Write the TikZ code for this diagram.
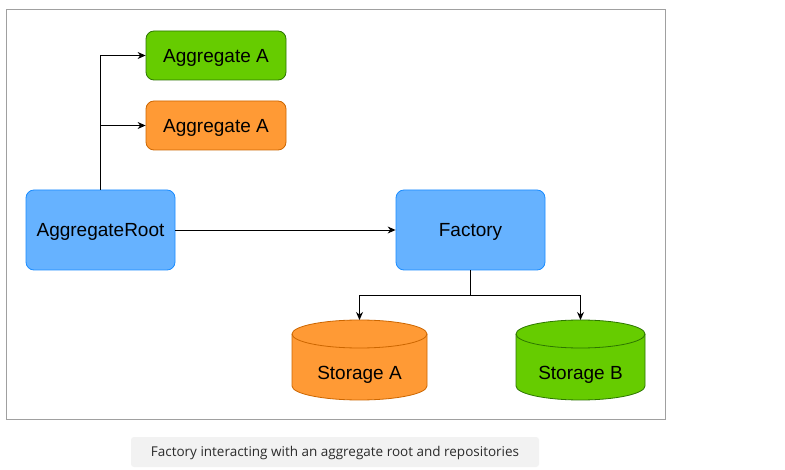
\documentclass[tikz,border=0pt]{standalone}
\usepackage{fontspec}
\setmainfont{Liberation Sans}
\newfontfamily\capfont{Open Sans}
\usetikzlibrary{arrows.meta}
\definecolor{gfill}{HTML}{66CC00}
\definecolor{gline}{HTML}{2D7600}
\definecolor{ofill}{HTML}{FF9A35}
\definecolor{oline}{HTML}{CC6600}
\definecolor{bfill}{HTML}{66B2FF}
\definecolor{bline}{HTML}{1A8CFF}
\definecolor{frame}{HTML}{A0A0A0}
\definecolor{capbg}{HTML}{F2F2F2}
\definecolor{captext}{HTML}{2B2B2B}
\tikzset{
  lbl/.style={font=\fontsize{19}{22}\selectfont, text=black, text height=13.6pt, text depth=0pt, inner sep=0pt},
  box/.style={lbl, draw, rounded corners=8pt, line width=0.8pt},
  conn/.style={line width=0.9pt, -{Stealth[length=8pt,width=7pt]}},
}
\begin{document}
\begin{tikzpicture}[x=1pt,y=-1pt]
\useasboundingbox (0,0) rectangle (785,470);
\fill[white] (0,0) rectangle (785,470);
\draw[frame, line width=1pt] (6,10) rectangle (665,420);

\node[box, fill=gfill, draw=gline, minimum width=140pt, minimum height=49pt] (agA1) at (216,55.5) {Aggregate A};
\node[box, fill=ofill, draw=oline, minimum width=140pt, minimum height=49pt] (agA2) at (216,125.5) {Aggregate A};
\node[box, fill=bfill, draw=bline, minimum width=149pt, minimum height=80pt] (root) at (100.5,230) {AggregateRoot};
\node[box, fill=bfill, draw=bline, minimum width=149pt, minimum height=80pt] (fac) at (470.5,230) {Factory};

% cylinders
\foreach \cx/\rx/\fc/\lc/\nm in {359.5/67.5/ofill/oline/stA, 580.5/64.5/gfill/gline/stB}{
  \filldraw[fill=\fc, draw=\lc, line width=0.8pt]
    (\cx-\rx,334) -- (\cx-\rx,386) arc[start angle=180,end angle=360,x radius=\rx,y radius=-14]
    -- (\cx+\rx,334) arc[start angle=0,end angle=180,x radius=\rx,y radius=-14] -- cycle;
  \draw[\lc, line width=0.8pt] (\cx-\rx,334) arc[start angle=180,end angle=360,x radius=\rx,y radius=-14];
  \coordinate (\nm) at (\cx,320);
}
\node[lbl] (stAtext) at (359.5,373) {Storage A};
\node[lbl] (stBtext) at (580.5,373) {Storage B};

\coordinate (split) at (470.5,295);
\draw[conn] (root.north) |- (agA1.west);
\draw[conn] (root.north) |- (agA2.west);
\draw[conn] (root.east) -- (fac.west);
\draw[line width=0.9pt] (fac.south) -- (split);
\draw[conn] (split) -| (stA);
\draw[conn] (split) -| (stB);

\node[fill=capbg, rounded corners=3pt, minimum width=408pt, minimum height=30pt, text=captext,
  text height=9.8pt, text depth=0pt,
  font=\capfont\fontsize{13.5}{16}\selectfont] (cap) at (335,452) {Factory interacting with an aggregate root and repositories};
\end{tikzpicture}
\end{document}
